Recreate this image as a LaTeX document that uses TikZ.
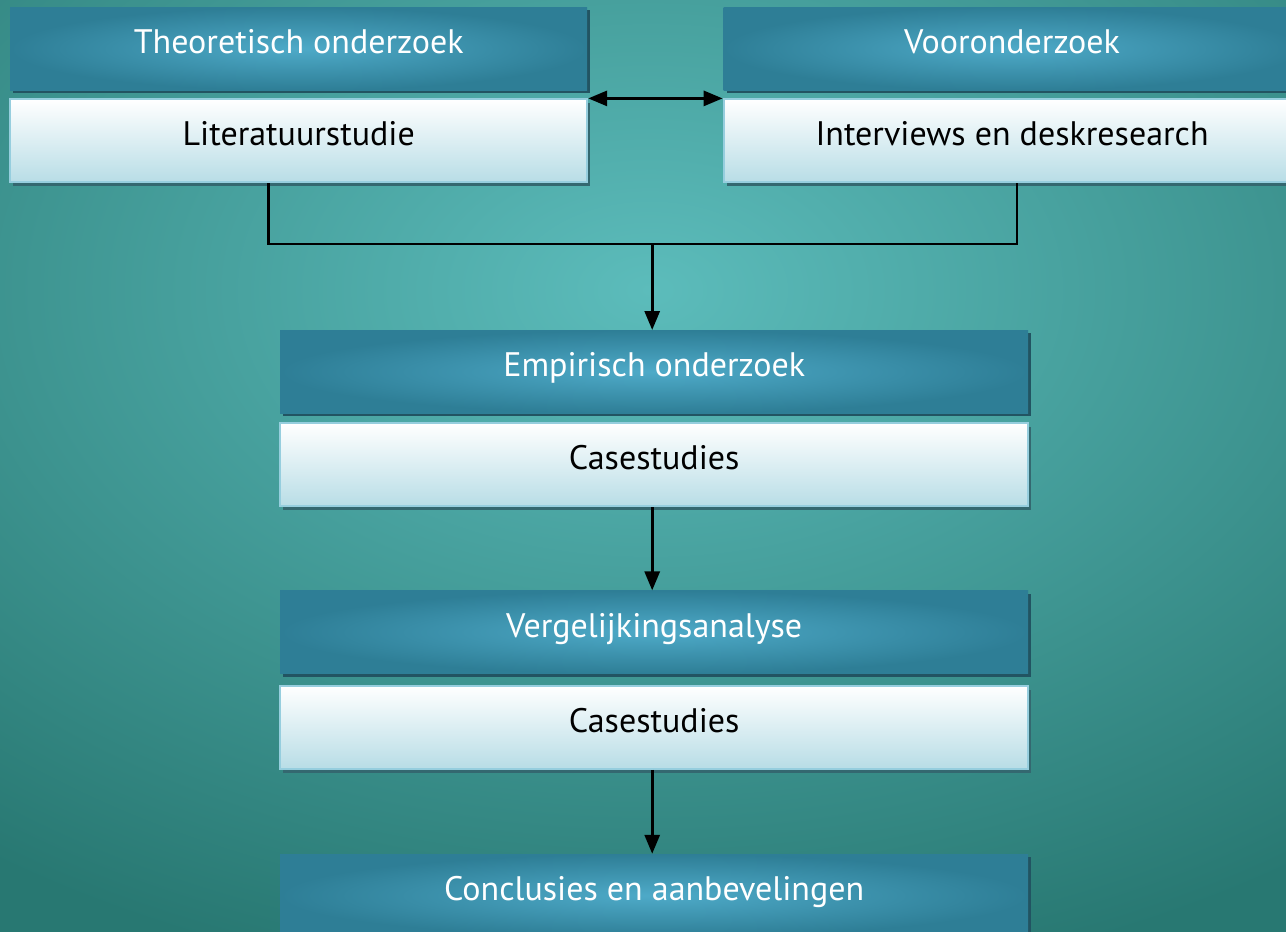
\documentclass[tikz,border=0pt]{standalone}
\usepackage{fontspec}
\setmainfont{PT Sans}
\usepackage{tikz}
\usetikzlibrary{positioning,shadows,arrows.meta,calc}
\definecolor{bginner}{RGB}{92,188,187}
\definecolor{bgouter}{RGB}{40,120,114}
\definecolor{phasedark}{RGB}{46,126,150}
\definecolor{phaselight}{RGB}{78,170,200}
\definecolor{phaseshadow}{RGB}{34,84,98}
\definecolor{methodlow}{RGB}{184,221,230}
\definecolor{methodline}{RGB}{150,206,222}
\definecolor{methodshadow}{RGB}{52,104,112}
\tikzstyle{phase}=[rectangle,shading=radial,inner color=phaselight,outer color=phasedark,
  text=white,minimum width=577pt,minimum height=83pt,inner sep=0pt,
  text height=28pt,text depth=18pt,font=\fontsize{34}{40}\selectfont,
  drop shadow={shadow xshift=3pt,shadow yshift=-3pt,fill=phaseshadow,opacity=1}]
\tikzstyle{method}=[rectangle,top color=white,bottom color=methodlow,draw=methodline,line width=2pt,
  text=black,minimum width=577pt,minimum height=83pt,inner sep=0pt,
  text height=28pt,text depth=18pt,font=\fontsize{34}{40}\selectfont,
  drop shadow={shadow xshift=3pt,shadow yshift=-4pt,fill=methodshadow,opacity=1}]

\begin{document}
\begin{tikzpicture}[x=1pt,y=-1pt,>={Triangle[length=19pt,width=15pt]}]
\useasboundingbox (0,0) rectangle (1286,932);
\clip (0,0) rectangle (1286,932);
\shade[inner color=bginner,outer color=bgouter] (-450,-420) rectangle (1750,1000);

\node [phase,anchor=north west] (theo) at (10,7) {Theoretisch onderzoek};
\node [method] [below=8pt of theo] (lit) {Literatuurstudie};
\node [phase] [right=136pt of theo] (voor) {Vooronderzoek};
\node [method] [below=8pt of voor] (intv) {Interviews en deskresearch};

\node [phase,anchor=north west,minimum width=748pt] (emp) at (280,330) {Empirisch onderzoek};
\node [method,minimum width=748pt] [below=9pt of emp] (case1) {Casestudies};
\node [phase,minimum width=748pt] [below=83pt of case1] (verg) {Vergelijkingsanalyse};
\node [method,minimum width=748pt] [below=11pt of verg] (case2) {Casestudies};
\node [phase,minimum width=748pt] [below=84pt of case2] (concl) {Conclusies en aanbevelingen};

\coordinate (j) at ($(emp.north)+(-2,-86)$);

\draw[<->, line width=3pt] (lit.north east) -- (intv.north west);
\draw[line width=2.5pt] ([xshift=-30pt]lit.south) |- (j) -| ([xshift=5pt]intv.south);
\draw[->, line width=3pt] (j) -- (j |- emp.north);
\draw[->, line width=3pt] (j |- case1.south) -- (j |- verg.north);
\draw[->, line width=3pt] (j |- case2.south) -- (j |- concl.north);
\end{tikzpicture}
\end{document}
